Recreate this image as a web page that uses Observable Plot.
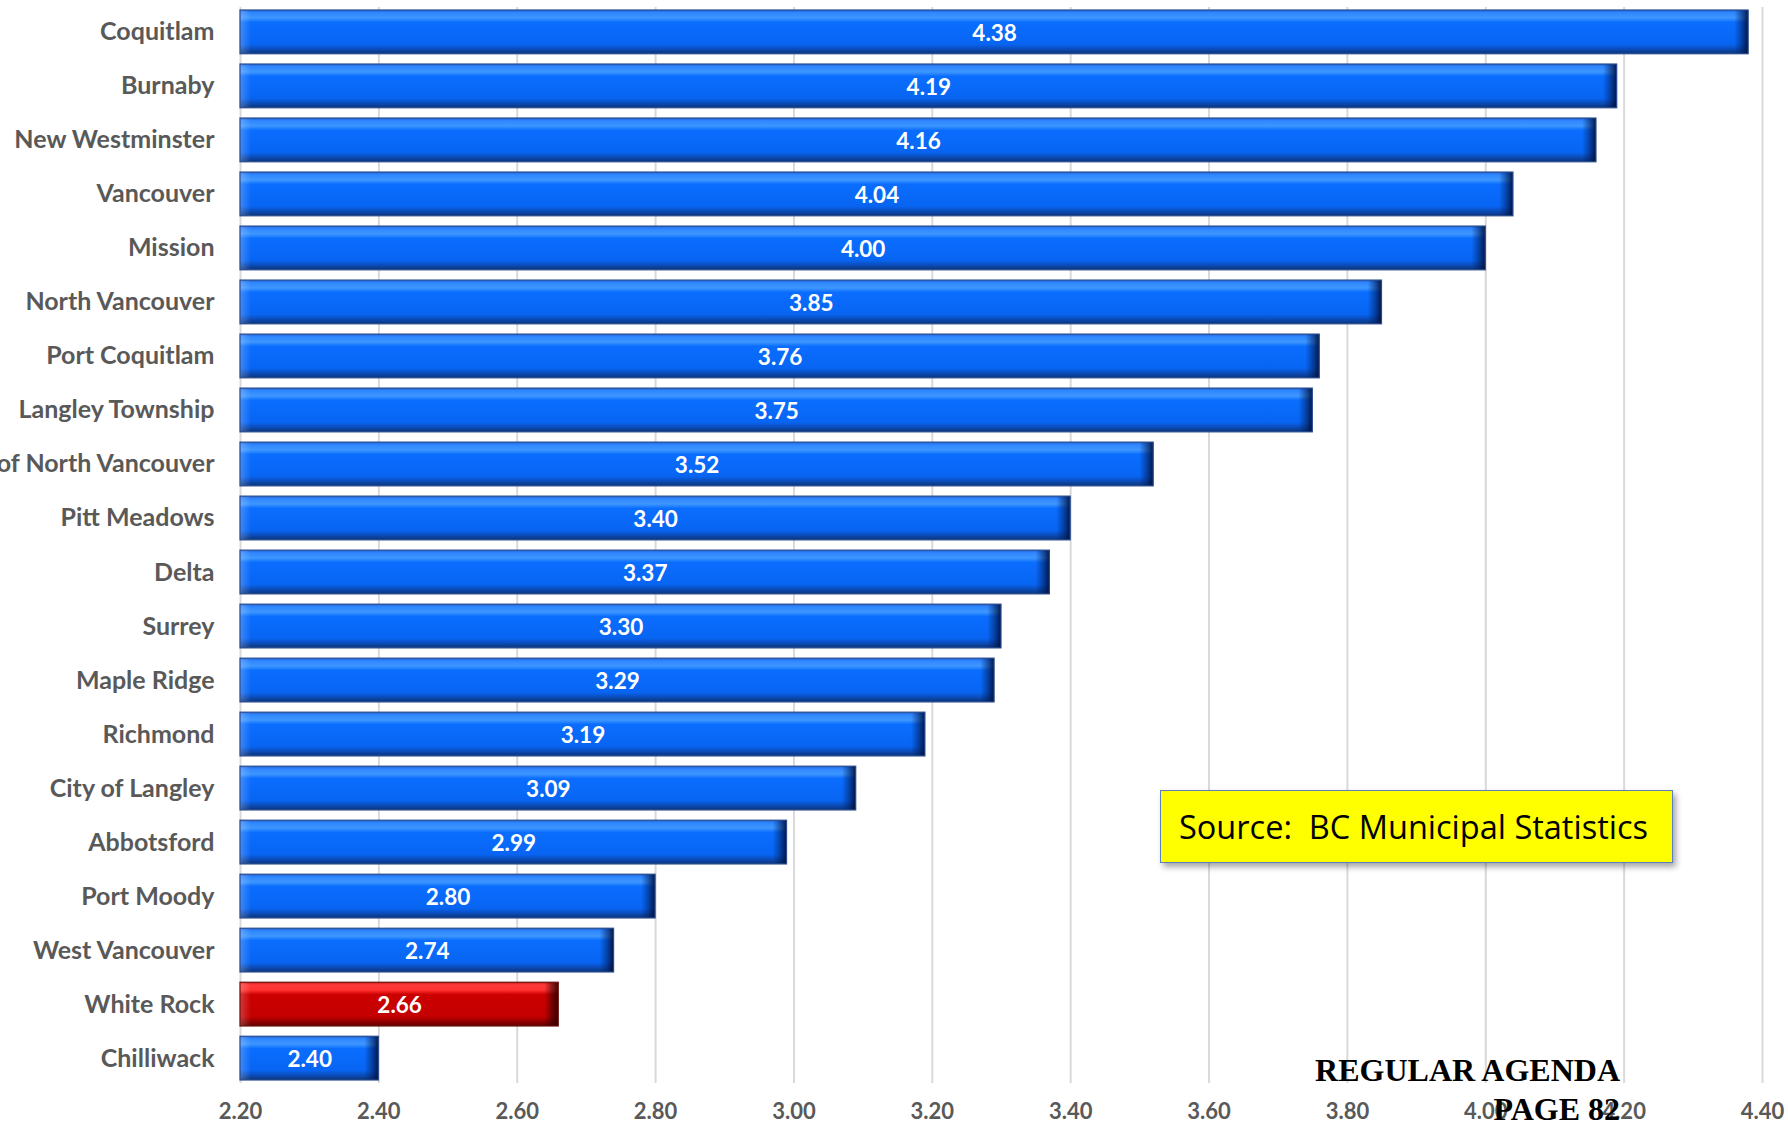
<!DOCTYPE html>
<html>
<head>
<meta charset="utf-8">
<script src="https://cdn.jsdelivr.net/npm/d3@7"></script>
<script src="https://cdn.jsdelivr.net/npm/@observablehq/plot@0.6"></script>
<style>
  html, body { margin: 0; padding: 0; background: #fff; }
  #wrap { position: relative; width: 1788px; height: 1126px; overflow: hidden; }
  #source {
    position: absolute; left: 1160px; top: 790px; width: 513px; height: 73px;
    background: #ffff00; border: 1.5px solid #5b7fc0;
    box-shadow: 3px 4px 6px rgba(0,0,0,0.35);
    font-family: "Open Sans", sans-serif; font-size: 32.5px; color: #000;
    display: flex; align-items: center; padding-left: 18px; box-sizing: border-box; white-space: pre;
  }
  .agenda {
    position: absolute; font-family: "Liberation Serif", "Times New Roman", serif; font-weight: bold;
    font-size: 32px; color: #000; white-space: pre; text-align: right; line-height: 1;
  }
</style>
</head>
<body>
<div id="wrap"></div>
<script>
const categories = ["Coquitlam","Burnaby","New Westminster","Vancouver","Mission","North Vancouver","Port Coquitlam","Langley Township","District of North Vancouver","Pitt Meadows","Delta","Surrey","Maple Ridge","Richmond","City of Langley","Abbotsford","Port Moody","West Vancouver","White Rock","Chilliwack"];
const values = [4.38,4.19,4.16,4.04,4.00,3.85,3.76,3.75,3.52,3.40,3.37,3.30,3.29,3.19,3.09,2.99,2.80,2.74,2.66,2.40];
const highlighted = ["White Rock"];
const xTicks = [2.2,2.4,2.6,2.8,3.0,3.2,3.4,3.6,3.8,4.0,4.2,4.4];
const xMin = 2.2, xMax = 4.4;
const bevel = 0.02; // width of the bevelled bar ends, in value units
const sourceText = "Source:  BC Municipal Statistics";
const stampLines = ["REGULAR AGENDA", "PAGE 82"];

const data = categories.map((c, i) => ({name: c, value: values[i], hi: highlighted.includes(c)}));
const blue = data.filter(d => !d.hi), red = data.filter(d => d.hi);

const chart = Plot.plot({
  width: 1788,
  height: 1126,
  marginLeft: 240,
  marginRight: 26,
  marginTop: 7,
  marginBottom: 43,
  style: {background: "transparent", overflow: "visible"},
  x: {domain: [xMin, xMax], ticks: xTicks, tickFormat: d3.format(".2f"), grid: false, axis: null},
  y: {domain: categories, range: [10, 1080], paddingInner: 0.19, paddingOuter: 0, round: false, axis: null},
  marks: [
    Plot.gridX(xTicks, {stroke: "#d9d9d9", strokeOpacity: 1, strokeWidth: 2}),
    Plot.barX(blue, {x1: d => xMin, x2: "value", y: "name", fill: "url(#gradBlue)"}),
    Plot.barX(red, {x1: d => xMin, x2: "value", y: "name", fill: "url(#gradRed)"}),
    Plot.barX(blue, {x1: d => d.value - bevel, x2: "value", y: "name", fill: "url(#endBlue)"}),
    Plot.barX(red, {x1: d => d.value - bevel, x2: "value", y: "name", fill: "url(#endRed)"}),
    Plot.barX(data, {x1: d => xMin, x2: d => xMin + bevel * 0.8, y: "name", fill: "url(#startLight)"}),
    Plot.barX(blue, {x1: d => xMin, x2: "value", y: "name", fill: "none", stroke: "#2a4c8f", strokeWidth: 1.2}),
    Plot.barX(red, {x1: d => xMin, x2: "value", y: "name", fill: "none", stroke: "#6e1010", strokeWidth: 1.2}),
    Plot.text(data, {x: d => (xMin + d.value) / 2, y: "name", text: d => d3.format(".2f")(d.value), fill: "white", fontWeight: "bold", fontSize: 22.5, fontFamily: "Lato, sans-serif", dy: 1}),
    Plot.axisY({tickSize: 0, tickPadding: 26, fontSize: 25, fontWeight: "bold", fontFamily: "Lato, sans-serif", color: "#595959", label: null}),
    Plot.axisX({ticks: xTicks, tickFormat: d3.format(".2f"), tickSize: 0, tickPadding: 20, fontSize: 22, fontWeight: "bold", fontFamily: "Lato, sans-serif", color: "#595959", label: null})
  ]
});

// gradient definitions for the bevelled bar look
const svg = d3.select(chart);
const defs = svg.insert("defs", ":first-child");
function grad(id, stops, horizontal) {
  const g = defs.append("linearGradient").attr("id", id).attr("x1", 0).attr("y1", 0)
    .attr("x2", horizontal ? 1 : 0).attr("y2", horizontal ? 0 : 1);
  stops.forEach(([o, c, a]) => g.append("stop").attr("offset", o).attr("stop-color", c).attr("stop-opacity", a == null ? 1 : a));
}
grad("gradBlue", [[0, "#1c63d8"], [0.06, "#2f86ff"], [0.18, "#3e97ff"], [0.28, "#0a6dff"], [0.78, "#0865f2"], [0.88, "#0a4fc0"], [1, "#0b3478"]]);
grad("gradRed", [[0, "#c81818"], [0.06, "#ff3a3a"], [0.18, "#ff3030"], [0.28, "#cc0000"], [0.78, "#c40000"], [0.88, "#9a0000"], [1, "#5e0000"]]);
grad("endBlue", [[0, "#002060", 0], [0.45, "#002060", 0.45], [1, "#000a30", 0.9]], true);
grad("endRed", [[0, "#300000", 0], [0.45, "#300000", 0.45], [1, "#200000", 0.9]], true);
grad("startLight", [[0, "#ffffff", 0.22], [1, "#ffffff", 0]], true);

const wrap = document.getElementById("wrap");
wrap.appendChild(chart);

const src = document.createElement("div");
src.id = "source";
src.textContent = sourceText;
wrap.appendChild(src);

const s1 = document.createElement("div");
s1.className = "agenda";
s1.style.cssText = "right:168px; top:1054px;";
s1.textContent = stampLines[0];
wrap.appendChild(s1);
const s2 = document.createElement("div");
s2.className = "agenda";
s2.style.cssText = "right:168px; top:1093px;";
s2.textContent = stampLines[1];
wrap.appendChild(s2);
</script>
</body>
</html>
